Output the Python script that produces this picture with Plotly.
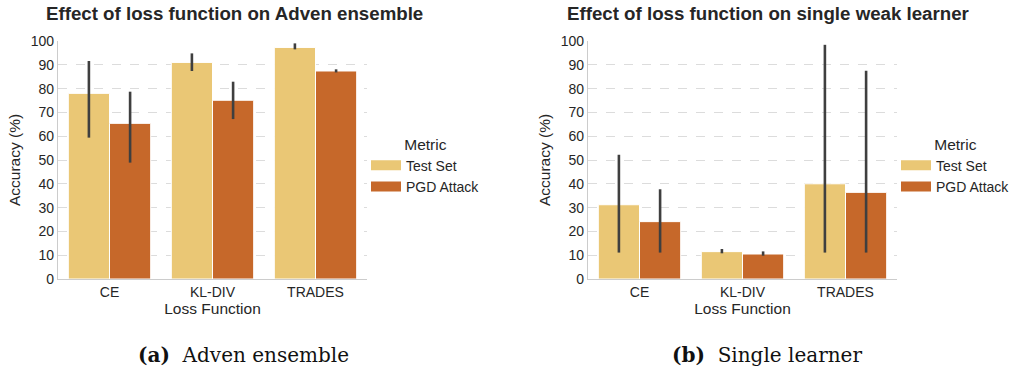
import plotly.graph_objects as go

# Categories and series
loss_functions = ["CE", "KL-DIV", "TRADES"]
metric_names = ["Test Set", "PGD Attack"]
y_ticks = [0, 10, 20, 30, 40, 50, 60, 70, 80, 90, 100]

# (a) Adven ensemble: mean accuracy with lower / upper error-bar bounds
adven_test = [78.0, 91.0, 97.3]
adven_test_lo = [59.4, 87.4, 96.5]
adven_test_hi = [91.6, 94.8, 99.0]
adven_pgd = [65.4, 75.1, 87.4]
adven_pgd_lo = [48.9, 67.2, 86.8]
adven_pgd_hi = [78.7, 82.9, 88.1]

# (b) Single weak learner
single_test = [31.2, 11.5, 40.0]
single_test_lo = [11.1, 10.8, 11.1]
single_test_hi = [52.2, 12.6, 98.4]
single_pgd = [24.1, 10.5, 36.4]
single_pgd_lo = [11.1, 9.8, 11.1]
single_pgd_hi = [37.7, 11.6, 87.5]

panel_titles = ["Effect of loss function on Adven ensemble",
                "Effect of loss function on single weak learner"]
caption_tags = ["(a)", "(b)"]
caption_texts = ["Adven ensemble", "Single learner"]

COLORS = ["#EAC775", "#C6682A"]
ERR_COLOR = "#3f3f3f"
TEXT = "#262626"
SANS = "Liberation Sans"
SERIF = "DejaVu Serif"

W, H = 1017, 368
# plot areas in pixels: (left, right), shared (top, bottom)
x_px = [(58, 367), (588, 897)]
top_px, bot_px = 41, 279

fig = go.Figure()

panels = [
    [(adven_test, adven_test_lo, adven_test_hi), (adven_pgd, adven_pgd_lo, adven_pgd_hi)],
    [(single_test, single_test_lo, single_test_hi), (single_pgd, single_pgd_lo, single_pgd_hi)],
]

for p, series in enumerate(panels):
    xa = "x" if p == 0 else "x2"
    ya = "y" if p == 0 else "y2"
    for s, (vals, lo, hi) in enumerate(series):
        fig.add_trace(go.Bar(
            x=loss_functions, y=vals,
            name=metric_names[s],
            marker=dict(color=COLORS[s], line=dict(color="white", width=1)),
            error_y=dict(type="data", symmetric=False,
                         array=[h - v for h, v in zip(hi, vals)],
                         arrayminus=[v - l for v, l in zip(vals, lo)],
                         color=ERR_COLOR, thickness=2.6, width=0),
            offsetgroup=str(s),
            showlegend=False,
            xaxis=xa, yaxis=ya,
        ))
    # legend swatches drawn as thick line entries
    for s in range(2):
        fig.add_trace(go.Scatter(
            x=[None], y=[None], mode="lines",
            name=metric_names[s],
            line=dict(color=COLORS[s], width=10),
            legend="legend" if p == 0 else "legend2",
            xaxis=xa, yaxis=ya,
        ))

axis_common = dict(
    showline=True, linecolor="#cccccc", linewidth=1.2,
    ticks="", tickfont=dict(family=SANS, size=14, color=TEXT),
    zeroline=False, automargin=False,
)

for p in range(2):
    l, r = x_px[p]
    xd = [l / W, r / W]
    yd = [(H - bot_px) / H, (H - top_px) / H]
    sfx = "" if p == 0 else "2"
    fig.update_layout(**{
        f"xaxis{sfx}": dict(
            domain=xd, anchor="y" + sfx, showgrid=False,
            title=dict(text="Loss Function", standoff=4,
                       font=dict(family=SANS, size=15.5, color=TEXT)),
            **axis_common,
        ),
        f"yaxis{sfx}": dict(
            domain=yd, anchor="x" + sfx, range=[0, 100],
            tickvals=y_ticks, showgrid=True, gridcolor="#dcdcdc",
            griddash="dash", gridwidth=1,
            title=dict(text="Accuracy (%)", standoff=6,
                       font=dict(family=SANS, size=15.5, color=TEXT)),
            **axis_common,
        ),
    })

legend_common = dict(
    bgcolor="rgba(0,0,0,0)", borderwidth=0,
    font=dict(family=SANS, size=14, color=TEXT),
    title=dict(text="Metric", side="top center",
               font=dict(family=SANS, size=15.5, color=TEXT)),
    xanchor="left", yanchor="middle", y=(H - 166) / H,
    tracegroupgap=0,
)
fig.update_layout(
    legend=dict(x=366 / W, **legend_common),
    legend2=dict(x=896 / W, **legend_common),
)

# panel titles
title_cx = [234.5, 768]
for p in range(2):
    fig.add_annotation(
        text=f"<b>{panel_titles[p]}</b>", xref="paper", yref="paper",
        x=title_cx[p] / W, y=(H - 14) / H, xanchor="center", yanchor="middle",
        showarrow=False, font=dict(family=SANS, size=18.7, color=TEXT),
    )

# sub-figure captions
cap_cx = [243, 767]
for p in range(2):
    fig.add_annotation(
        text=f"<b>{caption_tags[p]}</b>\u00a0 {caption_texts[p]}",
        xref="paper", yref="paper",
        x=cap_cx[p] / W, y=(H - 355) / H, xanchor="center", yanchor="middle",
        showarrow=False, font=dict(family=SERIF, size=20, color="#111111"),
    )

fig.update_layout(
    width=W, height=H,
    margin=dict(l=0, r=0, t=0, b=0),
    paper_bgcolor="white", plot_bgcolor="white",
    barmode="group", bargap=0.2, bargroupgap=0,
)

fig.write_html("out.html")
